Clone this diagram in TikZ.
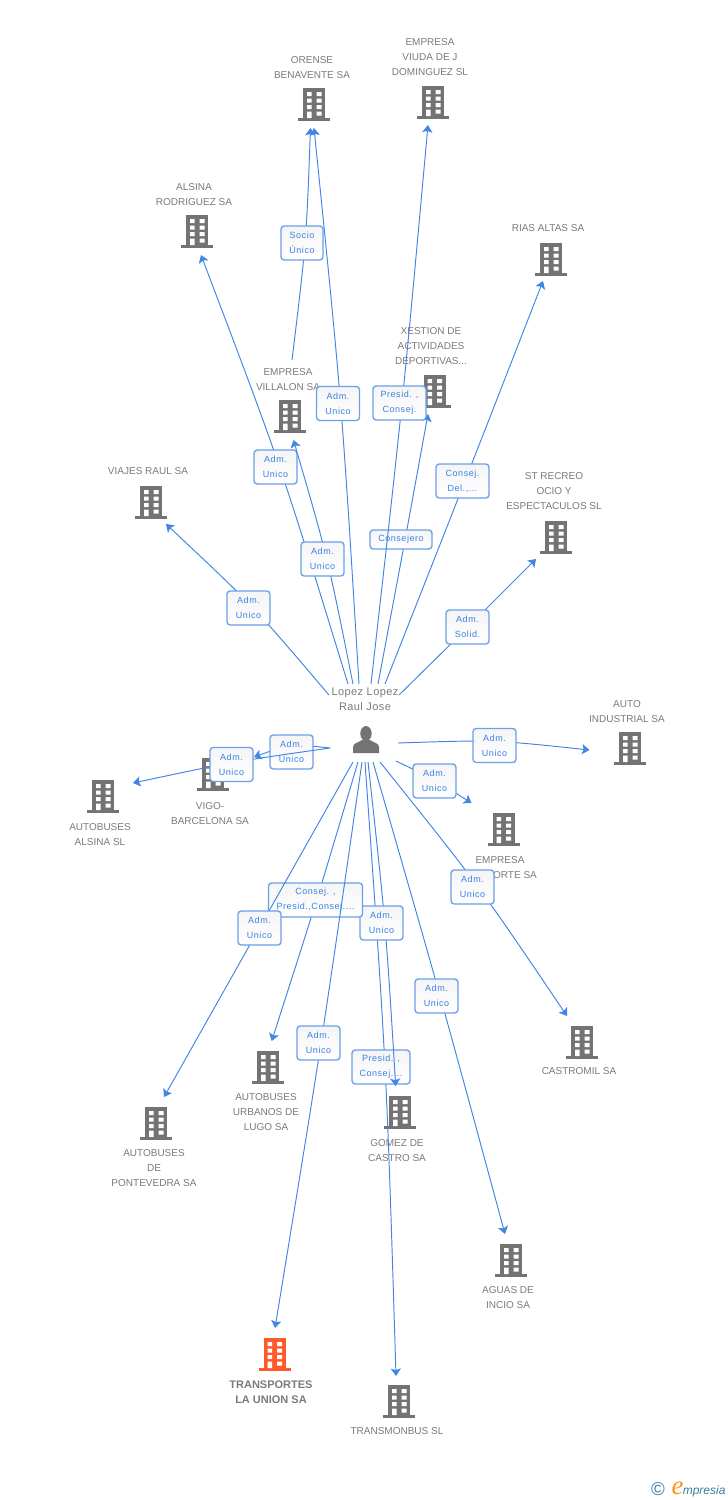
\documentclass[tikz,border=0pt]{standalone}
\usepackage{fontspec}
\setmainfont{Liberation Sans}
\newfontfamily\lblfont[LetterSpace=6]{Liberation Sans}
\newfontfamily\perfont[LetterSpace=4]{Liberation Sans}
\newfontfamily\serfont{Liberation Serif}
\usetikzlibrary{arrows.meta,calc,shadings}
\definecolor{gtext}{HTML}{7A7A7A}
\definecolor{gicon}{HTML}{737373}
\definecolor{oicon}{HTML}{FF5A2C}
\definecolor{linkc}{HTML}{4285E4}
\definecolor{boxc}{HTML}{6A9FEA}
\definecolor{boxt}{HTML}{3A80E6}
\definecolor{logot}{HTML}{3B7C9B}
\definecolor{logoo}{HTML}{F7931E}
\tikzset{
  conn/.style={draw=linkc,line width=0.72pt,-{Stealth[length=5.6pt,width=7.6pt,inset=1.2pt]}},
  lab/.style={draw=boxc,line width=1pt,rounded corners=2.4pt,top color=black!4,bottom color=white,
     text=boxt,minimum height=25.5pt,inner sep=0pt,align=center,font=\lblfont\fontsize{6.75}{11.25}\selectfont},
  captxt/.style={text=gtext,inner sep=0pt,align=center,font=\fontsize{7.5}{11.25}\selectfont},
  captxtb/.style={text=gtext,inner sep=0pt,align=center,font=\bfseries\fontsize{8.25}{11.25}\selectfont},
  bbox/.style={minimum width=24pt,minimum height=24.5pt,inner sep=0pt}
}
% building icon: #1 name, #2 centre x, #3 top y, #4 colour
\newcommand\bldg[4]{%
  \node[bbox] (#1) at (#2,#3+16) {};
  \begin{scope}[shift={(#2,#3)}]
    \fill[#4] (-11,0) rectangle (11,31);
    \fill[#4] (-16,30) rectangle (16,32.6);
    \fill[white] (-7,4) rectangle (-2.5,8) (2.7,4) rectangle (7.5,8)
      (-7,10.5) rectangle (-2.5,14.5) (2.7,10.5) rectangle (7.5,14.5)
      (-7,17) rectangle (-2.5,21) (2.7,17) rectangle (7.5,21)
      (2.7,23.5) rectangle (7.5,27.5) (-7,23.5) rectangle (-2.5,30);
  \end{scope}}
% connector: [#1 label options], #2 id, #3 start, #4 point passed, #5 end, #6 label centre, #7 label width, #8 text
\newcommand\linkto[8][]{%
  \coordinate (s#2) at (#3);
  \coordinate (m#2) at (#4);
  \coordinate (e#2) at (#5);
  \coordinate (c#2) at ($1.3333*(m#2)-0.16667*(s#2)-0.16667*(e#2)$);
  \draw[conn] (s#2) .. controls (c#2) .. (e#2);
  \node[lab,minimum width=#7*0.75pt,#1] (l#2) at (#6) {#8};}
\begin{document}
\begin{tikzpicture}[x=0.75pt,y=-0.75pt]
\useasboundingbox (0,0) rectangle (728,1500);
% buildings
\bldg{orense}{314}{88}{gicon}
\bldg{viuda}{433}{86}{gicon}
\bldg{alsinar}{197}{215}{gicon}
\bldg{rias}{551}{243}{gicon}
\bldg{xestion}{434.5}{375}{gicon}
\bldg{villalon}{290}{400}{gicon}
\bldg{viajes}{151}{486}{gicon}
\bldg{recreo}{556}{521}{gicon}
\bldg{autoind}{630}{732}{gicon}
\bldg{orte}{503.5}{813}{gicon}
\bldg{vigo}{213}{758}{gicon}
\bldg{alsinasl}{103}{780}{gicon}
\bldg{castromil}{582}{1026}{gicon}
\bldg{urbanos}{268}{1051}{gicon}
\bldg{ponte}{156}{1107}{gicon}
\bldg{gomez}{400}{1096}{gicon}
\bldg{aguas}{511}{1244}{gicon}
\bldg{union}{274.5}{1338}{oicon}
\bldg{transmon}{399}{1385}{gicon}
% captions
\node[captxt] (torense) at (312,67.5) {ORENSE\\BENAVENTE SA};
\node[captxt] (tviuda) at (430,57.5) {EMPRESA\\VIUDA DE J\\DOMINGUEZ SL};
\node[captxt] (talsinar) at (194,194.5) {ALSINA\\RODRIGUEZ SA};
\node[captxt] (trias) at (548,228) {RIAS ALTAS SA};
\node[captxt] (txestion) at (431,346.5) {XESTION DE\\ACTIVIDADES\\DEPORTIVAS...};
\node[captxt] (tvillalon) at (288,379.5) {EMPRESA\\VILLALON SA};
\node[captxt] (tviajes) at (148,471) {VIAJES RAUL SA};
\node[captxt] (trecreo) at (554,491.5) {ST RECREO\\OCIO Y\\ESPECTACULOS SL};
\node[captxt] (tauto) at (627,711.5) {AUTO\\INDUSTRIAL SA};
\node[captxt] (torte) at (500,867.5) {EMPRESA\\\hspace*{22.5pt}ORTE SA};
\node[captxt] (tvigo) at (210,813.5) {VIGO-\\BARCELONA SA};
\node[captxt] (talsinasl) at (100,834.5) {AUTOBUSES\\ALSINA SL};
\node[captxt] (tcastromil) at (579,1071) {CASTROMIL SA};
\node[captxt] (turbanos) at (266,1112.5) {AUTOBUSES\\URBANOS DE\\LUGO SA};
\node[captxt] (tponte) at (154,1168.5) {AUTOBUSES\\DE\\PONTEVEDRA SA};
\node[captxt] (tgomez) at (397,1150.5) {GOMEZ DE\\CASTRO SA};
\node[captxt] (taguas) at (508,1297.5) {AGUAS DE\\INCIO SA};
\node[captxtb] (tunion) at (271,1392) {TRANSPORTES\\LA UNION SA};
\node[captxt] (ttransmon) at (397,1431) {TRANSMONBUS SL};
% person
\node[minimum width=20pt,minimum height=21pt,inner sep=0pt] (person) at (366,739) {};
\fill[gicon] (366,733.5) ellipse (5.7 and 7.5);
\fill[gicon] (353,753) -- (353,747) .. controls (353,743) and (358,743) .. (362,740) -- (370,740) .. controls (374,743) and (379,743) .. (379,747) -- (379,753) -- cycle;
% connectors with their labels, in drawing order
\linkto{a}{292,360}{305,243}{310.5,128}{302,243}{42}{Socio\\Único}
\linkto{b}{359,684}{340.5,403}{314,128}{338,403.5}{43}{Adm.\\Unico}
\linkto[minimum height=14.25pt]{d}{378,684}{405,540}{428,414}{401,539.5}{62}{Consejero}
\linkto{c}{371,684}{402,403}{428,125}{399.5,403}{53}{Presid. ,\\Consej.}
\linkto{f}{385,684}{465,481}{543,281}{462.5,481}{53}{Consej.\\Del.,...}
\linkto{g}{399,695}{468,627}{536,559}{467.5,627}{43}{Adm.\\Solid.}
\linkto{h}{329,695}{252,607}{166,524}{248.5,608}{43}{Adm.\\Unico}
\linkto{i}{348,684}{279.5,467}{201,255}{275.5,467}{43}{Adm.\\Unico}
\linkto{j}{353,684}{326.7,559}{293.5,440}{322.5,559}{43}{Adm.\\Unico}
\linkto{k}{330,748}{291,746}{254,757}{291.5,752}{43}{Adm.\\Unico}
\linkto{l}{330,748}{231,763}{133,783}{231.5,764.5}{43}{Adm.\\Unico}
\linkto{m}{398,743}{494,741.5}{589.5,750}{494.5,745.5}{43}{Adm.\\Unico}
\linkto{n}{396,761}{434,780}{471.5,803}{434.5,781}{43}{Adm.\\Unico}
\linkto{o}{380,762}{478,887}{567,1016}{472.5,887}{43}{Adm.\\Unico}
\linkto{p}{373,762}{440,996}{505,1234}{436.5,996}{43}{Adm.\\Unico}
\linkto{q}{365,762}{385,1067}{396,1376}{381,1067}{58}{Presid. ,\\Consej....}
\linkto{r}{368,762}{384.7,923}{395.7,1086}{381.5,923}{43}{Adm.\\Unico}
\linkto{t}{358,762}{316.6,900}{271.7,1041}{315.5,900}{94}{Consej. ,\\Presid.,Consej....}
\linkto{u}{353,762}{260,928}{164,1097}{259.5,928}{43}{Adm.\\Unico}
\linkto{v}{362,762}{321,1043}{275,1328}{318.5,1043}{43}{Adm.\\Unico}
% person's name
\node[text=gtext,inner sep=0pt,align=center,font=\perfont\fontsize{8.25}{11.25}\selectfont] (tperson) at (365,699.5) {Lopez Lopez\\Raul Jose};
% logo
\node[text=logot,inner sep=0pt,font=\fontsize{14}{14}\selectfont] (copyr) at (658,1489) {©};
\node[text=logoo,inner sep=0pt,font=\serfont\itshape\fontsize{20}{20}\selectfont] (loge) at (677.5,1488.5) {e};
\node[text=logot,inner sep=0pt,anchor=west,font=\itshape\fontsize{9}{9}\selectfont] (logt) at (682.5,1491) {mpresia};
\end{tikzpicture}
\end{document}
